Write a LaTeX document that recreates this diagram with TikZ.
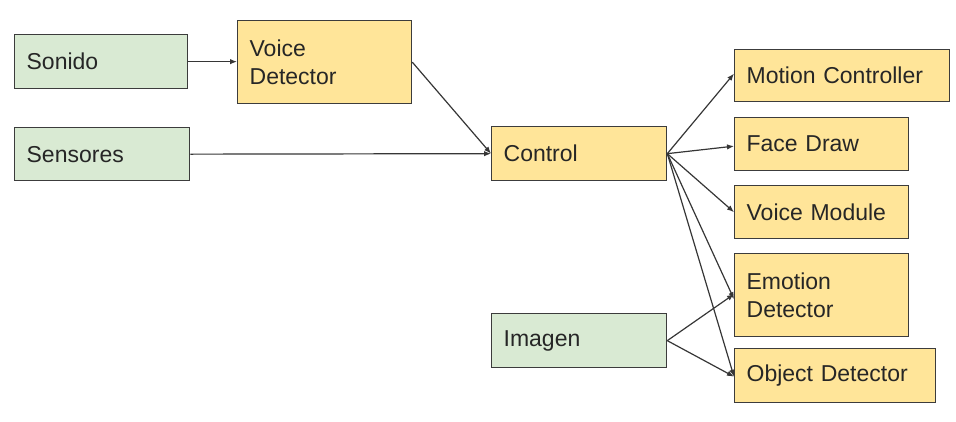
\documentclass[tikz,border=0pt]{standalone}
\usepackage{fontspec}
\setmainfont{Liberation Sans}
\usetikzlibrary{arrows.meta}
\definecolor{gfill}{HTML}{D9EAD3}
\definecolor{yfill}{HTML}{FFE599}
\definecolor{edge}{HTML}{3C3C3C}
\begin{document}
\begin{tikzpicture}[x=1pt,y=-1pt,
  box/.style={draw=edge, line width=1.3pt, anchor=north west, inner xsep=12pt, inner ysep=0pt,
    align=left, font=\fontsize{23}{28}\selectfont, text=black!85},
  gbox/.style={box, fill=gfill},
  ybox/.style={box, fill=yfill},
  conn/.style={draw=edge!90!black, line width=1.2pt, -{Latex[length=7pt,width=5.5pt]}}]
\useasboundingbox (0,0) rectangle (956,421);
% boxes
\node[gbox, minimum width=173pt, minimum height=54pt, text width=149pt] (son) at (14,34) {Sonido};
\node[ybox, minimum width=174pt, minimum height=83pt, text width=150pt] (vd) at (237,20) {Voice\\Detector};
\node[gbox, minimum width=175pt, minimum height=53pt, text width=151pt] (sen) at (14,127) {Sensores};
\node[ybox, minimum width=175pt, minimum height=54pt, text width=151pt] (ctl) at (491,126) {Control};
\node[gbox, minimum width=175pt, minimum height=54pt, text width=151pt] (img) at (491,313) {Imagen};
\node[ybox, minimum width=215pt, minimum height=52pt, text width=191pt] (mc) at (734,49) {Motion Controller};
\node[ybox, minimum width=174pt, minimum height=53pt, text width=150pt] (fd) at (734,117) {Face Draw};
\node[ybox, minimum width=174pt, minimum height=53pt, text width=150pt] (vm) at (734,185) {Voice Module};
\node[ybox, minimum width=174pt, minimum height=83pt, text width=150pt] (ed) at (734,253) {Emotion\\Detector};
\node[ybox, minimum width=201pt, minimum height=54pt, text width=177pt] (od) at (734,348) {Object Detector};
% connectors
\draw[conn] (son.east) -- (vd.west|-son.east);
\draw[conn] (vd.east) -- (ctl.west);
\draw[conn] (sen.east) -- (ctl.west);
\draw[conn] (ctl.east) -- ([yshift=2pt]mc.west);
\draw[conn] (ctl.east) -- ([yshift=-2pt]fd.west);
\draw[conn] (ctl.east) -- (vm.west);
\draw[conn] (ctl.east) -- ([yshift=-4pt]ed.west);
\draw[conn] (ctl.east) -- ([yshift=-1pt]od.west);
\draw[conn] (img.east) -- ([yshift=1pt]ed.west);
\draw[conn] (img.east) -- ([yshift=-1pt]od.west);
\end{tikzpicture}
\end{document}
